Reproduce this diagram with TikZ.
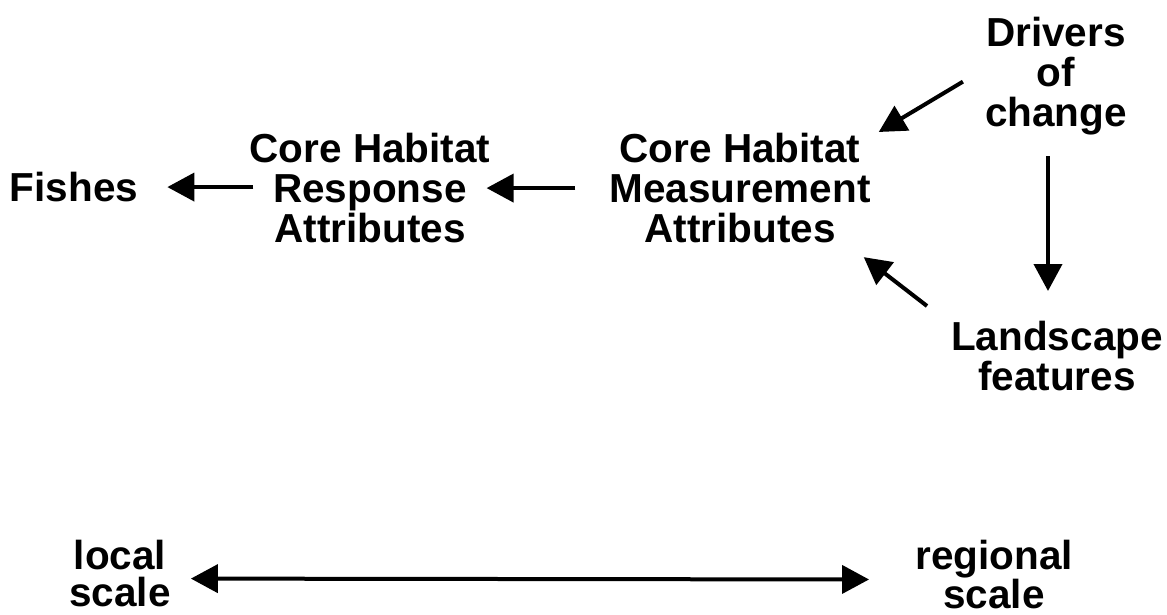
\documentclass[tikz,border=0pt]{standalone}
\usepackage{fontspec}
\setmainfont{Liberation Sans}
\usetikzlibrary{arrows.meta,calc}
\begin{document}
\begin{tikzpicture}[x=1pt,y=-1pt,
  lbl/.style={font=\bfseries\fontsize{40.5}{40}\selectfont, align=center, inner sep=0pt, anchor=north},
  sclbl/.style={lbl, font=\bfseries\fontsize{40.5}{37}\selectfont},
  arr/.style={line width=4pt, -{Triangle[length=27pt,width=28pt]}},
  darr/.style={line width=4pt, {Triangle[length=27pt,width=28pt]}-{Triangle[length=27pt,width=28pt]}}]
\useasboundingbox (0,0) rectangle (1167,615);
\node[lbl] (fish) at (74,172) {Fishes};
\node[lbl] (resp) at (370,133) {Core Habitat\\Response\\Attributes};
\node[lbl] (meas) at (740,133) {Core Habitat\\Measurement\\Attributes};
\node[lbl] (drv) at (1056,17) {Drivers\\of\\change};
\node[lbl] (land) at (1057,321) {Landscape\\features};
\node[sclbl] (loc) at (120,540) {local\\scale};
\node[sclbl] (reg) at (994,540) {regional\\scale};
\draw[arr] (resp.west |- fish.east) ++(4,0) -- ($(fish.east)+(29,0)$);
\draw[arr] ($(meas.west |- resp.east)+(-34,0)$) -- ($(resp.east)+(-4,0)$);
\draw[arr] ($(drv.west)+(-22,5.5)$) -- ($(meas.north east)+(8,-1)$);
\draw[arr] ($(drv.south)+(-8,21)$) -- ($(land.north)+(-9,-30)$);
\draw[arr] ($(land.north west)+(-24,-15)$) -- ($(meas.south east)+(-7,14)$);
\draw[darr, shorten <=20pt, shorten >=46pt] ($(loc.east)+(0,5)$) -- ($(reg.west)+(0,5)$);
\end{tikzpicture}
\end{document}
